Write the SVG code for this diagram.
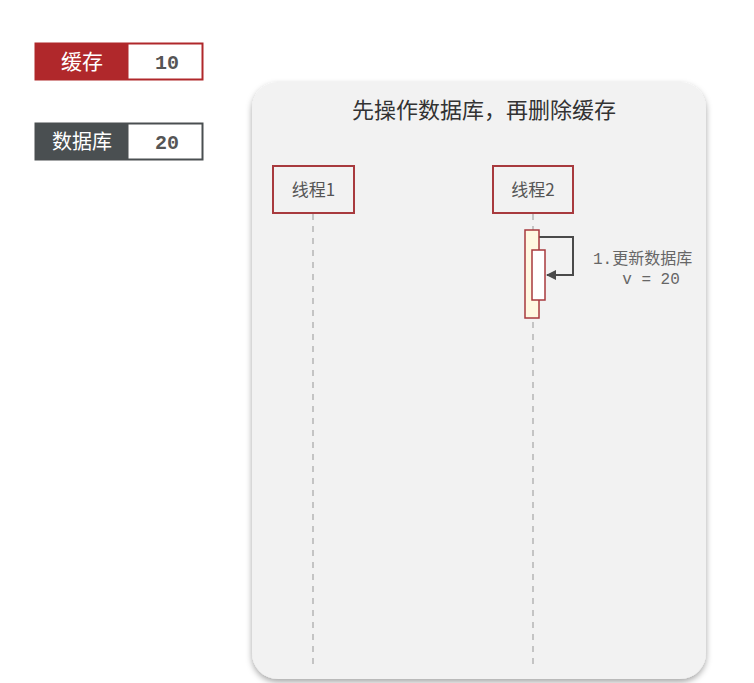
<svg xmlns="http://www.w3.org/2000/svg" width="754" height="683" viewBox="0 0 754 683">
<style>
.cn{font-family:"Noto Sans CJK SC","Liberation Sans",sans-serif;}
.mono{font-family:"Liberation Mono","DejaVu Sans Mono","Noto Sans CJK SC",monospace;}
.actor{fill:#f2f2f2;stroke:#a83a3e;stroke-width:2;}
.life{stroke:#b5b5b5;stroke-width:1.5;stroke-dasharray:6 6;fill:none;}
</style>
<defs>
<filter id="sh" x="-10%" y="-10%" width="120%" height="120%">
<feDropShadow dx="0" dy="3" stdDeviation="3" flood-color="#000" flood-opacity="0.35"/>
</filter>
<marker id="ah" markerWidth="10" markerHeight="10" refX="9" refY="5" orient="auto" markerUnits="userSpaceOnUse">
<path d="M0,0 L10,5 L0,10 Z" fill="#4a4a4a"/>
</marker>
</defs>
<rect width="754" height="683" fill="#ffffff"/>
<g id="cache">
<rect x="35.5" y="43.5" width="167" height="36" fill="#ffffff" stroke="#b0282b" stroke-width="2"/>
<rect x="35.5" y="43.5" width="93" height="36" fill="#b0282b"/>
<text x="82" y="69" class="cn" font-size="21" fill="#ffffff" text-anchor="middle">缓存</text>
<text x="167" y="69" class="mono" font-size="20" font-weight="bold" fill="#555" text-anchor="middle">10</text>
</g>
<g id="database">
<rect x="35.5" y="123.5" width="167" height="36" fill="#ffffff" stroke="#4a4f51" stroke-width="2"/>
<rect x="35.5" y="123.5" width="93" height="36" fill="#4a4f51"/>
<text x="82" y="149" class="cn" font-size="20" fill="#ffffff" text-anchor="middle">数据库</text>
<text x="167" y="149" class="mono" font-size="20" font-weight="bold" fill="#555" text-anchor="middle">20</text>
</g>
<g id="panel">
<rect x="252" y="82" width="454" height="597" rx="26" fill="#f2f2f2" filter="url(#sh)"/>
<text x="484" y="118" class="cn" font-size="22" fill="#333" text-anchor="middle">先操作数据库，再删除缓存</text>
</g>
<g id="connectors">
<line class="life" x1="313" y1="214" x2="313" y2="666"/>
<line class="life" x1="533" y1="214" x2="533" y2="666"/>
<polyline points="539,237 573,237 573,275 547,275" fill="none" stroke="#4a4a4a" stroke-width="2" marker-end="url(#ah)"/>
</g>
<g id="thread1">
<rect class="actor" x="273" y="166" width="81" height="47"/>
<text x="313.5" y="196" class="cn" font-size="17" fill="#555" text-anchor="middle">线程1</text>
</g>
<g id="thread2">
<rect class="actor" x="493" y="166" width="80" height="47"/>
<text x="533" y="196" class="cn" font-size="17" fill="#555" text-anchor="middle">线程2</text>
</g>
<g id="activation">
<rect x="525" y="230" width="14" height="88" fill="#fff8e1" stroke="#a83a3e" stroke-width="1.5"/>
<rect x="532" y="250" width="13" height="50" fill="#ffffff" stroke="#a83a3e" stroke-width="1.5"/>
</g>
<g id="label1">
<text x="593" y="264" class="mono" font-size="16" fill="#666">1.更新数据库</text>
<text x="651" y="284" class="mono" font-size="16" fill="#666" text-anchor="middle" xml:space="preserve">v = 20</text>
</g>
</svg>
